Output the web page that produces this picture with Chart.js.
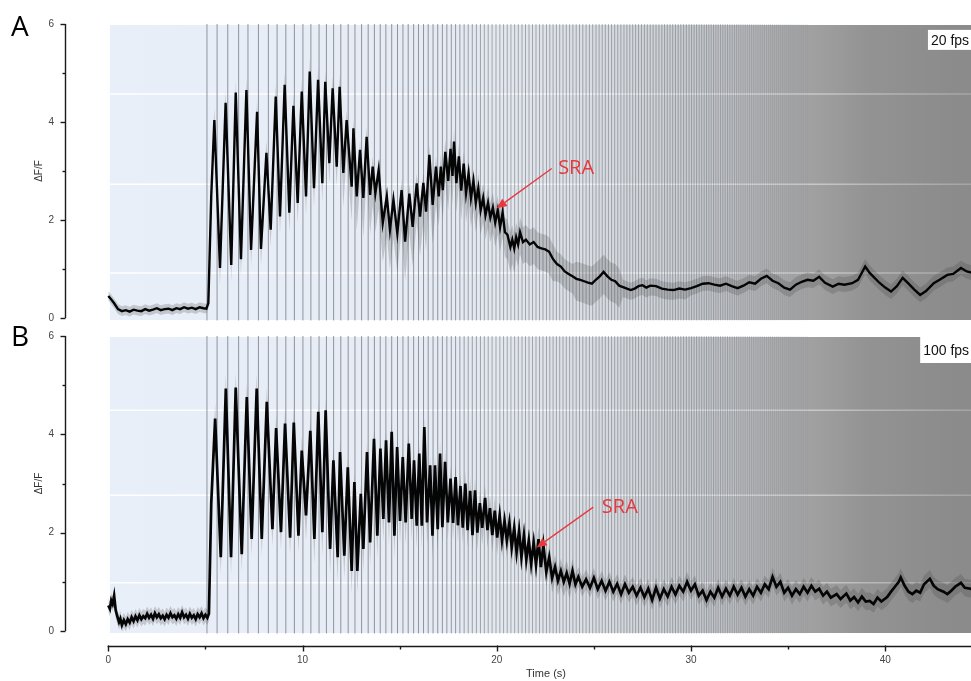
<!DOCTYPE html>
<html><head><meta charset="utf-8">
<script src="https://cdn.jsdelivr.net/npm/chart.js@4/dist/chart.umd.min.js"></script>
<style>
html,body{margin:0;padding:0;overflow:hidden;background:#fff;width:971px;height:681px;position:relative}
#wrapA{position:absolute;left:0;top:0;width:1027px;height:325px}
#wrapB{position:absolute;left:0;top:325px;width:1027px;height:356px}
.panel{position:absolute;font-family:'Open Sans',sans-serif;font-size:28px;line-height:1;color:#000}
</style></head><body>
<div id="wrapA"><canvas id="cA" width="1027" height="325"></canvas></div>
<div id="wrapB"><canvas id="cB" width="1027" height="356"></canvas></div>
<div class="panel" style="left:11px;top:11px">A</div>
<div class="panel" style="left:11px;top:321px">B</div>
<script>
// ---------- data ----------
const xTicks = [0, 10, 20, 30, 40];
const xMinorTicks = [5, 15, 25, 35, 45];
const yTicks = [0, 1, 2, 3, 4, 5, 6];
const yLabelTicks = [0, 2, 4, 6];

// stimulus times (s)
const stimTimes = [5.08, 5.6, 6.15, 6.71, 7.19, 7.73, 8.24, 8.69, 9.14, 9.58, 10.02, 10.43, 10.85, 11.23, 11.6, 11.97, 12.35, 12.7, 13.04, 13.38, 13.7, 14.0, 14.29, 14.59, 14.89, 15.17, 15.44, 15.72, 15.97, 16.23, 16.47, 16.72, 16.96, 17.2, 17.43, 17.66,
17.88, 18.1, 18.32, 18.53, 18.74, 18.95, 19.16, 19.36, 19.56, 19.76, 19.96, 20.16, 20.35, 20.54, 20.73, 20.92, 21.11, 21.3, 21.48, 21.66, 21.84, 22.02, 22.2, 22.38, 22.56, 22.73, 22.9, 23.07, 23.24, 23.41, 23.58, 23.75, 23.92, 24.09, 24.26, 24.43, 24.6, 24.77, 24.94, 25.11, 25.27, 25.43, 25.59, 25.75, 25.91, 26.07, 26.23, 26.39, 26.55, 26.7, 26.85, 27.0, 27.15, 27.3, 27.45, 27.6, 27.75, 27.9, 28.05, 28.2, 28.35, 28.5, 28.64, 28.78, 28.92, 29.06, 29.2, 29.34, 29.48, 29.62, 29.76, 29.9,
30.03, 30.16, 30.29, 30.42, 30.55, 30.68, 30.8, 30.92, 31.04, 31.16, 31.28, 31.4, 31.52, 31.64, 31.76, 31.88, 32.0, 32.12, 32.24, 32.35, 32.46, 32.57, 32.68, 32.79, 32.9, 33.01, 33.12, 33.23, 33.34, 33.45, 33.56, 33.67, 33.78, 33.89, 34.0, 34.1, 34.2, 34.3, 34.4, 34.5, 34.6, 34.7, 34.8, 34.9, 35.0, 35.1, 35.2, 35.3, 35.4, 35.5, 35.6, 35.7, 35.8, 35.9, 36.0];

// panel A (20 fps) mean trace
const tA = [0,0.15,0.3,0.5,0.7,0.9,1.1,1.3,1.5,1.7,1.9,2.1,2.3,2.5,2.7,2.9,3.1,3.3,3.5,3.7,3.9,4.1,4.3,4.5,4.7,4.9,5.05,5.15,5.3,
5.46,5.75,6.04,6.33,6.56,6.83,7.11,7.35,7.66,7.86,8.14,8.36,8.62,8.84,9.08,9.32,9.53,9.75,9.96,10.18,10.37,10.59,10.8,11.02,11.17,11.38,11.55,11.76,11.91,12.1,12.27,12.53,12.62,12.79,12.96,13.13,13.3,13.48,13.61,13.75,13.92,14.13,14.34,14.5,14.68,14.88,15.1,15.28,15.5,15.67,15.88,16.05,16.22,16.36,16.53,16.7,16.87,17.01,17.12,17.22,17.35,
17.5,17.62,17.72,17.8,17.92,18.05,18.17,18.3,18.42,18.55,18.67,18.8,18.92,19.05,19.17,19.3,19.42,19.55,19.67,19.8,19.92,20.05,20.17,20.3,20.42,20.55,20.7,20.8,20.9,21.0,21.1,21.2,21.35,21.5,21.7,21.9,22.1,22.3,22.5,22.7,22.9,23.1,23.3,23.5,23.7,23.9,24.1,24.3,24.5,24.7,24.9,25.1,25.3,25.5,25.7,25.9,26.1,26.3,26.5,26.7,26.9,27.1,27.3,27.5,27.7,27.9,28.2,28.5,28.8,29.1,29.4,29.7,30.0,30.3,30.6,30.9,31.2,31.5,31.8,32.1,32.4,32.7,33.0,33.3,33.6,33.9,34.2,34.5,34.8,35.1,35.4,35.7,36.0,36.3,36.6,36.9,37.3,37.6,37.9,38.3,38.6,38.97,39.2,39.4,39.7,40.0,40.3,40.6,40.9,41.2,41.5,41.8,42.1,42.5,42.8,43.2,43.5,43.9,44.2,44.5,45,45.5,46,46.5,47.3];
const vA = [0.45,0.38,0.3,0.18,0.14,0.16,0.13,0.17,0.15,0.14,0.18,0.15,0.17,0.2,0.16,0.18,0.19,0.16,0.2,0.18,0.22,0.19,0.21,0.18,0.22,0.2,0.19,0.3,2.5,
4.04,1.02,4.39,1.08,4.6,1.2,4.65,1.39,4.21,1.41,3.37,1.8,4.52,2.07,4.76,2.15,4.33,2.35,4.62,2.48,5.03,2.65,4.86,2.75,4.82,3.16,4.69,3.09,4.72,2.96,4.04,2.68,3.87,2.48,3.43,2.45,3.7,2.51,3.09,2.55,3.02,1.94,2.48,1.8,2.41,1.73,2.61,1.56,2.54,1.86,2.75,2.07,2.76,2.17,3.33,2.31,3.09,2.48,3.09,2.61,3.39,
2.8,3.45,2.9,3.6,2.75,3.3,2.6,3.15,2.55,2.95,2.45,2.8,2.35,2.65,2.2,2.45,2.1,2.35,2.05,2.25,1.95,2.2,1.85,2.15,1.75,1.7,1.45,1.6,1.42,1.65,1.5,1.75,1.55,1.6,1.5,1.55,1.45,1.42,1.4,1.35,1.2,1.1,1.05,0.95,0.9,0.85,0.8,0.78,0.75,0.72,0.7,0.78,0.85,0.94,0.85,0.78,0.75,0.66,0.63,0.6,0.57,0.6,0.65,0.67,0.62,0.66,0.65,0.6,0.58,0.57,0.6,0.58,0.61,0.65,0.7,0.71,0.68,0.66,0.7,0.65,0.61,0.66,0.73,0.7,0.8,0.86,0.76,0.71,0.62,0.58,0.68,0.74,0.78,0.76,0.84,0.72,0.64,0.7,0.68,0.71,0.78,1.05,0.92,0.84,0.72,0.62,0.54,0.65,0.82,0.7,0.58,0.47,0.55,0.71,0.78,0.88,0.9,1.02,0.95,0.92,0.85,0.8,0.86,0.8,0.82];

// panel A spread (below / above the mean), read at coarse times
const sdTA   = [0, 5.2, 9, 12, 13, 17, 19, 21, 23, 24, 26.5, 30];
const sdLoA  = [0.1, 0.35, 0.4, 0.7, 0.8, 0.6, 0.5, 0.45, 0.35, 0.45, 0.2, 0.15];
const sdHiA  = [0.1, 0.25, 0.25, 0.2, 0.2, 0.25, 0.3, 0.3, 0.25, 0.35, 0.15, 0.15];

// panel B (100 fps) mean trace
const tB = [0,0.08,0.15,0.22,0.3,0.38,0.46,0.55,0.62,0.7,0.8,0.9,1.0,1.1,1.2,1.3,1.4,1.5,1.6,1.7,1.8,1.9,2.0,2.1,2.2,2.3,2.4,2.5,2.6,2.7,2.8,2.9,3.0,3.1,3.2,3.3,3.4,3.5,3.6,3.7,3.8,3.9,4.0,4.1,4.2,4.3,4.4,4.5,4.6,4.7,4.8,4.9,5.0,5.1,5.18,5.3,
5.5,5.79,6.05,6.32,6.56,6.87,7.13,7.38,7.64,7.9,8.16,8.45,8.64,8.89,9.1,9.36,9.55,9.79,9.96,10.18,10.4,10.61,10.81,11.02,11.19,11.42,11.59,11.81,11.93,12.15,12.33,12.53,12.67,12.82,13.0,13.13,13.32,13.48,13.68,13.85,14.01,14.16,14.3,14.45,14.59,14.73,14.87,15.02,15.16,15.31,15.47,15.62,15.74,15.88,16.01,16.14,16.27,16.41,16.57,16.69,16.82,16.96,17.08,17.2,17.34,17.48,
17.62,17.75,17.88,18.0,18.13,18.25,18.38,18.5,18.63,18.75,18.88,19.0,19.13,19.25,19.4,19.52,19.65,19.77,19.9,20.02,20.15,20.27,20.4,20.52,20.65,20.77,20.9,21.02,21.15,21.27,21.4,21.52,21.65,21.77,21.9,22.02,22.15,22.27,22.4,22.55,22.7,22.85,23.0,23.15,23.3,23.45,23.6,23.75,23.9,24.05,24.2,24.4,24.6,24.8,25.0,25.2,25.4,25.6,25.8,26.0,26.2,26.4,26.6,26.8,27.0,27.2,27.4,27.6,27.8,28.0,28.2,28.4,28.6,28.8,29.0,29.2,29.4,29.6,29.8,30.0,30.2,30.4,30.6,30.8,31.0,31.2,31.4,31.6,31.8,32.0,32.2,32.4,32.6,32.8,33.0,33.2,33.4,33.6,33.8,34.0,34.2,34.4,34.6,34.8,35.0,35.2,35.4,35.6,35.8,36.0,36.2,36.4,36.6,36.8,37.0,37.2,37.5,37.7,38.0,38.2,38.4,38.6,38.8,39.0,39.2,39.4,39.6,39.8,40.1,40.3,40.5,40.7,40.8,41.0,41.2,41.4,41.6,41.8,42.0,42.3,42.5,42.7,43.0,43.2,43.4,43.6,43.9,44.1,44.4,44.7,45.0,45.5,46.0,46.5,47.3];
const vB = [0.52,0.45,0.62,0.55,0.72,0.42,0.3,0.18,0.25,0.12,0.22,0.14,0.24,0.17,0.28,0.2,0.3,0.22,0.32,0.24,0.3,0.26,0.35,0.27,0.33,0.25,0.36,0.28,0.34,0.26,0.31,0.24,0.33,0.27,0.36,0.28,0.32,0.25,0.34,0.27,0.38,0.28,0.33,0.25,0.35,0.27,0.32,0.24,0.34,0.28,0.36,0.26,0.33,0.27,0.35,2.6,
4.32,1.5,4.93,1.5,4.95,1.56,4.76,1.87,4.93,1.87,4.66,2.07,4.13,2.01,4.22,1.9,4.24,1.94,3.67,2.35,4.07,1.87,4.46,2.01,4.49,1.67,3.47,1.5,3.64,1.53,3.33,1.22,3.03,1.22,2.79,1.67,3.64,1.8,3.91,1.94,3.71,2.28,3.88,2.21,4.05,1.94,3.74,2.24,3.54,2.21,3.81,2.28,3.47,2.14,3.61,2.14,4.15,2.21,3.37,1.94,3.37,2.07,3.61,2.11,3.44,2.21,
3.1,2.2,3.13,2.15,2.95,2.1,3.0,2.05,2.85,1.95,2.86,2.0,2.6,2.1,2.71,2.05,2.5,1.95,2.45,1.9,2.35,1.85,2.24,1.84,2.2,1.7,2.1,1.6,2.04,1.5,1.95,1.45,1.84,1.37,1.8,1.35,1.87,1.3,1.75,1.2,1.5,1.08,1.3,1.02,1.22,1.0,1.18,0.96,1.22,0.95,1.1,0.9,1.05,0.88,1.08,0.85,1.02,0.82,1.0,0.8,0.96,0.75,0.95,0.78,0.9,0.72,0.88,0.69,0.86,0.63,0.88,0.66,0.85,0.7,0.9,0.74,0.92,0.8,1.0,0.82,0.95,0.72,0.82,0.63,0.8,0.68,0.88,0.7,0.86,0.72,0.9,0.74,0.88,0.7,0.85,0.72,0.9,0.78,0.95,0.85,1.1,0.9,1.0,0.78,0.88,0.72,0.85,0.75,0.9,0.78,0.92,0.8,0.86,0.72,0.8,0.68,0.75,0.65,0.76,0.62,0.69,0.58,0.7,0.6,0.61,0.55,0.68,0.6,0.69,0.8,0.9,1.0,1.09,0.92,0.8,0.75,0.82,0.78,0.95,1.06,0.92,0.85,0.8,0.75,0.82,0.9,0.98,0.88,0.86,0.8,0.85,0.8,0.84,0.78,0.82];

// panel B spread (below / above the mean)
const sdTB  = [0, 5.2, 10, 12, 17, 21, 24, 30];
const sdLoB = [0.15, 0.35, 0.5, 0.45, 0.35, 0.3, 0.2, 0.18];
const sdHiB = [0.15, 0.3, 0.25, 0.2, 0.25, 0.25, 0.2, 0.18];

// ---------- styling ----------
const xMin = -2.23, xMax = 47.3;
const RED = '#e8383d';
const shadeTimes  = [0, 17.5, 22, 26, 30, 33, 36, 39, 43, 47.3];
const shadeColors = ['#e9eff9', '#e6ebf3', '#e0e4ea', '#d6d9de', '#c8cbcf', '#b5b6b8', '#a2a2a3', '#939393', '#8c8c8c', '#888888'];
const stimAlphaTimes = [0, 17, 20, 30, 36];
const stimAlphaVals  = [0.72, 0.72, 0.55, 0.55, 0.1];

function pts(ts, vs) { return ts.map((t, i) => ({x: t, y: vs[i]})); }
function spreadAt(knotsT, knotsV, t) { // piecewise-constant lookup of the spread read at coarse times
  let k = 0;
  for (let i = 0; i < knotsT.length; i++) if (knotsT[i] <= t) k = i;
  return knotsV[k];
}
function bandPts(ts, vs, kt, kv, sign) { return ts.map((t, i) => ({x: t, y: vs[i] + sign * spreadAt(kt, kv, t)})); }
function stimPts() {
  const out = [];
  stimTimes.forEach(t => { out.push({x: t, y: -0.05}, {x: t, y: 6}, {x: t, y: null}); });
  return out;
}
function stimColor(t) {
  let a = stimAlphaVals[stimAlphaVals.length - 1];
  for (let i = 0; i < stimAlphaTimes.length - 1; i++) {
    if (t >= stimAlphaTimes[i] && t <= stimAlphaTimes[i + 1]) {
      const f = (t - stimAlphaTimes[i]) / (stimAlphaTimes[i + 1] - stimAlphaTimes[i]);
      a = stimAlphaVals[i] + f * (stimAlphaVals[i + 1] - stimAlphaVals[i]);
      break;
    }
  }
  return 'rgba(108,114,124,' + a.toFixed(3) + ')';
}

const bgPlugin = {
  id: 'bg',
  beforeDatasetsDraw(chart, args, o) {
    const {ctx, chartArea: ca, scales: {x, y}} = chart;
    const x0 = x.getPixelForValue(0.08);
    const xa = x.getPixelForValue(0), xb = x.getPixelForValue(xMax);
    const g = ctx.createLinearGradient(xa, 0, xb, 0);
    shadeTimes.forEach((t, i) => g.addColorStop(Math.min(1, Math.max(0, (x.getPixelForValue(t) - xa) / (xb - xa))), shadeColors[i]));
    ctx.save();
    ctx.fillStyle = g;
    ctx.fillRect(x0, ca.top + 1, chart.width - x0, ca.bottom - ca.top + 1);
    const wg = ctx.createLinearGradient(xa, 0, xb, 0);
    wg.addColorStop(0, 'rgba(255,255,255,0.95)');
    wg.addColorStop(0.45, 'rgba(255,255,255,0.8)');
    wg.addColorStop(1, 'rgba(255,255,255,0.15)');
    ctx.strokeStyle = wg;
    ctx.lineWidth = 1.5;
    o.grid.forEach(v => {
      const py = y.getPixelForValue(v);
      ctx.beginPath(); ctx.moveTo(x0, py); ctx.lineTo(chart.width, py); ctx.stroke();
    });
    ctx.restore();
  }
};

const axesPlugin = {
  id: 'axes',
  afterDraw(chart, args, o) {
    const {ctx, chartArea: ca, scales: {x, y}} = chart;
    ctx.save();
    ctx.strokeStyle = '#1a1a1a';
    ctx.lineWidth = 1.4;
    const ax = Math.round(ca.left) + 0.5;
    ctx.beginPath(); ctx.moveTo(ax, y.getPixelForValue(6)); ctx.lineTo(ax, y.getPixelForValue(0)); ctx.stroke();
    yTicks.forEach(v => {
      const py = Math.round(y.getPixelForValue(v)) + 0.5;
      const len = yLabelTicks.includes(v) ? 5 : 3;
      ctx.beginPath(); ctx.moveTo(ax - len, py); ctx.lineTo(ax, py); ctx.stroke();
    });
    if (o.xAxis) {
      const py = Math.round(y.getPixelForValue(0) + o.xAxisOffset) + 0.5;
      ctx.beginPath(); ctx.moveTo(x.getPixelForValue(0) - 0.7, py); ctx.lineTo(chart.width, py); ctx.stroke();
      xTicks.forEach(v => { const px = Math.round(x.getPixelForValue(v)) + 0.5; ctx.beginPath(); ctx.moveTo(px, py - 1); ctx.lineTo(px, py + 5); ctx.stroke(); });
      xMinorTicks.forEach(v => { const px = Math.round(x.getPixelForValue(v)) + 0.5; ctx.beginPath(); ctx.moveTo(px, py); ctx.lineTo(px, py + 3); ctx.stroke(); });
    }
    ctx.restore();
  }
};

const annotPlugin = {
  id: 'annot',
  afterDatasetsDraw(chart, args, o) {
    const {ctx, scales: {x, y}} = chart;
    ctx.save();
    const tx = x.getPixelForValue(o.tip[0]), ty = y.getPixelForValue(o.tip[1]);
    const sx = x.getPixelForValue(o.tail[0]), sy = y.getPixelForValue(o.tail[1]);
    const ang = Math.atan2(ty - sy, tx - sx);
    const hl = 10, hw = 4.5;
    const bx = tx - hl * Math.cos(ang), by = ty - hl * Math.sin(ang);
    ctx.strokeStyle = RED; ctx.fillStyle = RED; ctx.lineWidth = 1.3;
    ctx.beginPath(); ctx.moveTo(sx, sy); ctx.lineTo(bx, by); ctx.stroke();
    ctx.beginPath(); ctx.moveTo(tx, ty);
    ctx.lineTo(bx + hw * Math.sin(ang), by - hw * Math.cos(ang));
    ctx.lineTo(bx - hw * Math.sin(ang), by + hw * Math.cos(ang));
    ctx.closePath(); ctx.fill();
    ctx.font = '20px "Open Sans"'; ctx.textBaseline = 'middle'; ctx.textAlign = 'left';
    ctx.fillText('SRA', x.getPixelForValue(o.text[0]), y.getPixelForValue(o.text[1]));
    const px = x.getPixelForValue(o.box[0]), py = y.getPixelForValue(o.box[1]);
    ctx.fillStyle = '#ffffff'; ctx.fillRect(px, py, o.boxW, o.boxH);
    ctx.fillStyle = '#111'; ctx.font = '14px "Liberation Sans"';
    ctx.fillText(o.label, px + 3, py + o.boxH / 2 + 1);
    ctx.restore();
  }
};

const HIDDEN = 'rgba(0,0,0,0)';
function makeChart(id, cfg) {
  const ds = [
    {label: 'mean', data: pts(cfg.t, cfg.v), borderColor: '#050505', borderWidth: cfg.lw, pointRadius: 0, tension: 0, fill: false, order: 0},
    {label: 'hi', data: bandPts(cfg.t, cfg.v, cfg.st, cfg.sh, 1), borderWidth: 0, borderColor: HIDDEN, pointRadius: 0, tension: 0, fill: '+1', backgroundColor: 'rgba(60,60,60,0.22)', order: 1},
    {label: 'lo', data: bandPts(cfg.t, cfg.v, cfg.st, cfg.sl, -1), borderWidth: 0, borderColor: HIDDEN, pointRadius: 0, tension: 0, fill: false, order: 1},
    {label: 'stim', data: stimPts(), borderColor: 'rgba(108,114,124,0.6)', borderWidth: 1, pointRadius: 0, spanGaps: false, fill: false, order: 3, clip: 3,
      segment: {borderColor: c => stimColor(c.p0.parsed.x)}}
  ];
  return new Chart(document.getElementById(id), {
    type: 'line',
    data: {datasets: ds},
    plugins: [bgPlugin, axesPlugin, annotPlugin],
    options: {
      responsive: false, animation: false, events: [],
      layout: {padding: cfg.pad, autoPadding: false},
      plugins: {legend: {display: false}, tooltip: {enabled: false},
        bg: {grid: cfg.grid},
        axes: {xAxis: cfg.showX, xAxisOffset: 15},
        annot: cfg.annot},
      scales: {
        x: {type: 'linear', min: xMin, max: xMax, display: cfg.showX,
          afterBuildTicks: s => { s.ticks = xTicks.map(v => ({value: v})); },
          afterFit: s => { s.height = cfg.showX ? cfg.xH : 0; },
          grid: {display: true, drawOnChartArea: false, drawTicks: true, tickLength: 23, color: HIDDEN}, border: {display: false},
          ticks: {padding: 0, color: '#444', font: {family: 'Liberation Sans', size: 10}, maxRotation: 0, autoSkip: false},
          title: {display: true, text: 'Time (s)', color: '#333', font: {family: 'Liberation Sans', size: 11}, padding: {top: 0, bottom: 0}}},
        y: {type: 'linear', min: 0, max: 6,
          afterBuildTicks: s => { s.ticks = yTicks.map(v => ({value: v})); },
          afterFit: s => { s.width = 65; },
          grid: {display: true, drawOnChartArea: false, drawTicks: true, tickLength: 11, color: HIDDEN}, border: {display: false},
          ticks: {padding: 0, color: '#444', font: {family: 'Liberation Sans', size: 10}, callback: v => yLabelTicks.includes(v) ? String(v) : ''},
          title: {display: true, text: 'ΔF/F', color: '#333', font: {family: 'Liberation Sans', size: 10}, padding: {top: 33, bottom: 0}}}
      }
    }
  });
}

makeChart('cA', {t: tA, v: vA, st: sdTA, sl: sdLoA, sh: sdHiA, lw: 2.4, showX: false, xH: 0,
  pad: {top: 24, bottom: 7, left: 0, right: 0}, grid: [0.92, 2.73, 4.57],
  annot: {tip: [20.0, 2.24], tail: [22.83, 3.05], text: [23.16, 3.06], box: [42.2, 5.88], boxW: 60, boxH: 20, label: '20 fps'}});
makeChart('cB', {t: tB, v: vB, st: sdTB, sl: sdLoB, sh: sdHiB, lw: 2.7, showX: true, xH: 50,
  pad: {top: 11, bottom: 0, left: 0, right: 0}, grid: [0.98, 2.76, 4.49],
  annot: {tip: [22.06, 1.7], tail: [24.97, 2.52], text: [25.41, 2.52], box: [41.8, 5.98], boxW: 60, boxH: 26, label: '100 fps'}});
</script>
</body></html>
